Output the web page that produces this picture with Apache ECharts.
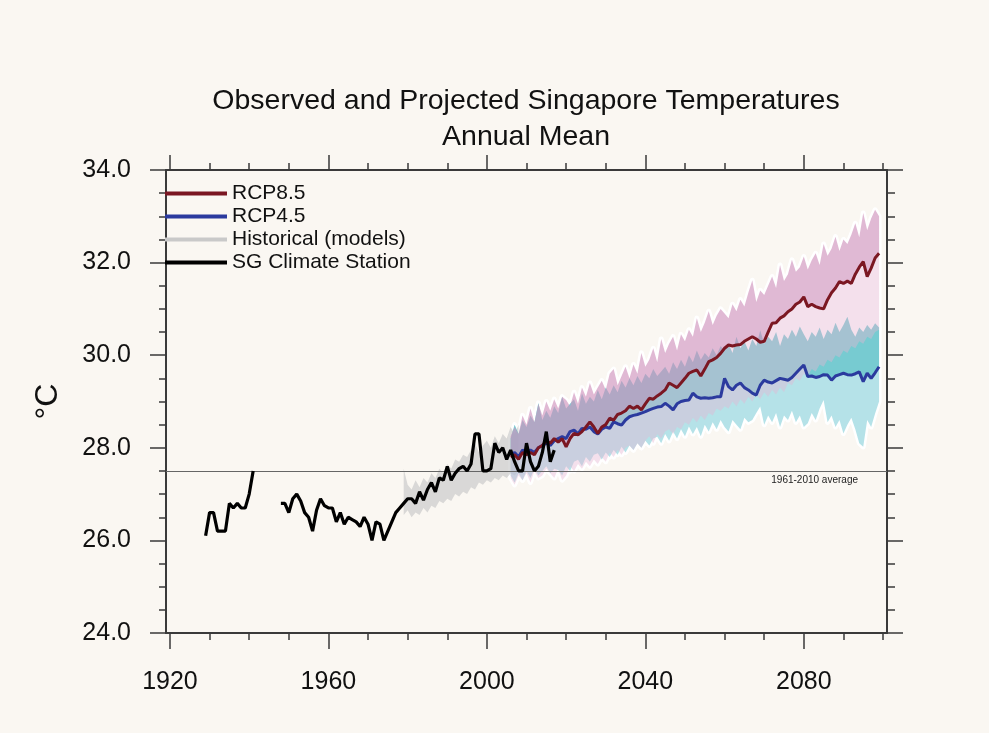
<!DOCTYPE html>
<html><head><meta charset="utf-8">
<script src="https://cdn.jsdelivr.net/npm/echarts@6/dist/echarts.min.js"></script>
<style>html,body{margin:0;padding:0;background:#faf7f2;}#c{width:989px;height:733px;}</style>
</head><body><div id="c"></div>
<script>
const titleLines = ['Observed and Projected Singapore Temperatures', 'Annual Mean'];
const yAxisName = '°C';
const xMajorTicks = [1920, 1960, 2000, 2040, 2080];
const xMinorTicks = [1930, 1940, 1950, 1970, 1980, 1990, 2010, 2020, 2030, 2050, 2060, 2070, 2090, 2100];
const xRange = [1919, 2101];
const yRange = [24, 34];
const yStep = 2;
const baselineValue = 27.5;
const baselineLabel = '1961-2010 average';
const legendNames = ['RCP8.5', 'RCP4.5', 'Historical (models)', 'SG Climate Station'];

// SG Climate Station, annual mean (null = no record)
const obsStartYear = 1929;
const obsValues = [
  26.10, 26.60, 26.60, 26.20, 26.20, 26.20, 26.80, 26.70, 26.80, 26.70, 26.70, 27.00, 27.50,
  null, null, null, null, null, null,
  26.80, 26.80, 26.60, 26.90, 27.00, 26.85, 26.60, 26.50, 26.20, 26.65, 26.90, 26.75,
  26.70, 26.70, 26.40, 26.60, 26.35, 26.50, 26.45, 26.40, 26.30, 26.50,
  26.35, 26.00, 26.40, 26.35, 26.00, 26.20, 26.40, 26.60, 26.70, 26.80,
  26.90, 26.90, 26.80, 27.05, 26.87, 27.10, 27.25, 27.05, 27.35, 27.30,
  27.60, 27.30, 27.45, 27.55, 27.60, 27.50, 27.65, 28.30, 28.30, 27.50,
  27.50, 27.55, 28.10, 27.90, 28.00, 27.75, 27.95, 27.70, 27.50, 27.50,
  28.10, 27.70, 27.50, 27.60, 27.90, 28.35, 27.70, 27.95
];

// Historical model range
const histStartYear = 1979;
const histLow = [
  26.55, 26.65, 26.50, 26.60, 26.55, 26.70, 26.60, 26.75, 26.70, 26.85,
  26.80, 26.90, 26.85, 27.00, 26.95, 27.05, 27.00, 27.15, 27.10, 27.25,
  27.20, 27.30, 27.25, 27.35, 27.30, 27.40, 27.35, 27.45, 27.40, 27.50
];
const histHigh = [
  27.55, 27.20, 27.10, 27.30, 27.15, 27.35, 27.25, 27.45, 27.35, 27.55,
  27.45, 27.65, 27.55, 27.75, 27.70, 27.85, 27.80, 27.95, 28.10, 27.90,
  28.05, 28.15, 28.00, 28.25, 28.10, 28.30, 28.20, 28.45, 28.30, 28.50
];

// Projections 2006-2099
const projStartYear = 2006;
const rcp85Mean = [
  27.80, 27.85, 27.75, 27.90, 27.85, 27.90, 27.85, 28.00, 28.05, 28.15,
  28.10, 28.20, 28.12, 28.20, 28.02, 28.20, 28.31, 28.28, 28.35, 28.45,
  28.56, 28.45, 28.31, 28.45, 28.50, 28.64, 28.60, 28.72, 28.75, 28.80,
  28.90, 28.85, 28.90, 28.82, 28.95, 29.07, 29.05, 29.12, 29.18, 29.25,
  29.40, 29.35, 29.30, 29.40, 29.50, 29.61, 29.65, 29.68, 29.55, 29.70,
  29.86, 29.90, 29.95, 30.04, 30.15, 30.22, 30.20, 30.22, 30.23, 30.30,
  30.35, 30.40, 30.35, 30.28, 30.30, 30.50, 30.69, 30.70, 30.80, 30.85,
  30.94, 31.00, 31.10, 31.15, 31.26, 31.05, 31.10, 31.05, 31.02, 31.00,
  31.20, 31.35, 31.45, 31.59, 31.55, 31.60, 31.55, 31.75, 31.90, 32.02,
  31.70, 31.88, 32.10, 32.20
];
const rcp85Low = [
  27.35, 27.20, 27.40, 27.30, 27.45, 27.25, 27.50, 27.35, 27.40, 27.55,
  27.45, 27.35, 27.55, 27.30, 27.40, 27.60, 27.50, 27.65, 27.55, 27.70,
  27.60, 27.75, 27.65, 27.80, 27.70, 27.90, 27.80, 27.95, 27.85, 28.00,
  28.05, 27.95, 28.10, 28.00, 28.15, 28.25, 28.10, 28.30, 28.20, 28.35,
  28.40, 28.30, 28.45, 28.40, 28.55, 28.50, 28.65, 28.55, 28.70, 28.60,
  28.75, 28.70, 28.85, 28.80, 28.90, 28.85, 29.00, 28.90, 29.05, 28.95,
  29.10, 29.00, 29.15, 29.05, 29.20, 29.10, 29.25, 29.15, 29.30, 29.20,
  29.40, 29.35, 29.50, 29.45, 29.60, 29.55, 29.70, 29.65, 29.80, 29.75,
  29.90, 29.85, 30.00, 29.95, 30.10, 30.05, 30.20, 30.15, 30.30, 30.25,
  30.40, 30.35, 30.50, 30.55
];
const rcp85High = [
  28.25, 28.45, 28.30, 28.70, 28.50, 28.85, 28.55, 28.95, 28.70, 29.00,
  28.80, 29.05, 28.85, 29.10, 29.03, 28.90, 29.20, 28.95, 29.30, 29.10,
  29.40, 29.15, 29.30, 29.45, 29.25, 29.60, 29.70, 29.35, 29.55, 29.75,
  29.50, 29.80, 29.60, 30.05, 29.75, 29.90, 30.15, 29.85, 30.35, 30.05,
  30.25, 30.40, 30.10, 30.45, 30.30, 30.55, 30.40, 30.80, 30.50, 30.70,
  30.95, 30.65, 30.85, 31.00, 30.90, 30.80, 31.10, 30.95, 31.20, 31.05,
  31.35, 31.62, 31.15, 31.40, 31.30, 31.50, 31.70, 31.45, 31.95, 31.60,
  31.75, 32.06, 31.80, 31.90, 32.13, 31.85, 32.05, 32.20, 31.95, 32.40,
  32.15, 32.30, 32.56, 32.25, 32.50, 32.40, 32.60, 32.85, 32.55, 33.07,
  32.70, 32.95, 33.14, 33.00
];
const rcp45Mean = [
  27.85, 27.90, 27.80, 27.95, 27.90, 27.95, 27.90, 28.00, 28.05, 28.10,
  28.05, 28.15, 28.20, 28.24, 28.20, 28.35, 28.38, 28.30, 28.42, 28.40,
  28.45, 28.35, 28.30, 28.40, 28.45, 28.42, 28.56, 28.52, 28.49, 28.60,
  28.67, 28.70, 28.72, 28.75, 28.78, 28.82, 28.85, 28.88, 28.89, 28.96,
  28.90, 28.82, 28.95, 29.00, 29.02, 29.03, 29.18, 29.10, 29.07, 29.08,
  29.07, 29.08, 29.10, 29.10, 29.50, 29.32, 29.25, 29.35, 29.40, 29.30,
  29.25, 29.18, 29.14, 29.35, 29.46, 29.42, 29.40, 29.45, 29.50, 29.48,
  29.46, 29.52, 29.61, 29.70, 29.79, 29.54, 29.55, 29.52, 29.54, 29.58,
  29.57, 29.46, 29.55, 29.58, 29.61, 29.58, 29.57, 29.60, 29.64, 29.43,
  29.61, 29.50, 29.62, 29.75
];
const rcp45Low = [
  27.40, 27.25, 27.45, 27.30, 27.50, 27.35, 27.55, 27.40, 27.50, 27.60,
  27.45, 27.55, 27.52, 27.40, 27.60, 27.50, 27.70, 27.74, 27.60, 27.80,
  27.70, 27.85, 27.88, 27.75, 27.90, 27.80, 27.95, 27.85, 28.02, 27.90,
  28.05, 27.95, 28.10, 28.00, 28.15, 28.05, 28.20, 28.24, 28.10, 28.30,
  28.15, 28.35, 28.20, 28.40, 28.25, 28.46, 28.30, 28.45, 28.25, 28.50,
  28.35, 28.55, 28.40, 28.60, 28.45, 28.35, 28.60, 28.50, 28.40, 28.65,
  28.55, 28.60, 28.75, 28.89, 28.50, 28.70, 28.55, 28.75, 28.45, 28.70,
  28.60, 28.80, 28.55, 28.70, 28.45, 28.53, 28.75, 28.60, 28.85, 29.03,
  28.55, 28.70, 28.45, 28.60, 28.31, 28.50, 28.65, 28.40, 28.10, 28.02,
  28.60, 28.45, 28.74, 29.00
];
const rcp45High = [
  28.20, 28.50, 28.30, 28.60, 28.45, 28.70, 28.55, 28.97, 28.60, 28.80,
  28.65, 28.90, 28.75, 29.10, 28.85, 28.95, 29.05, 28.80, 29.18, 28.95,
  29.10, 29.00, 29.25, 29.05, 29.30, 29.15, 29.35, 29.20, 29.45, 29.30,
  29.50, 29.35, 29.55, 29.40, 29.60, 29.50, 29.70, 29.55, 29.65, 29.75,
  29.60, 29.85, 29.70, 29.90, 29.75, 30.00, 29.85, 30.10, 29.90, 30.05,
  29.95, 30.15, 30.00, 30.20, 30.10, 30.25, 30.05, 30.40, 30.15, 30.30,
  30.10, 30.35, 30.20, 30.54, 30.25, 30.40, 30.30, 30.50, 30.20, 30.45,
  30.35, 30.55, 30.40, 30.62, 30.45, 30.30, 30.50, 30.40, 30.60, 30.35,
  30.55, 30.45, 30.70, 30.50, 30.65, 30.83, 30.55, 30.40, 30.60, 30.50,
  30.65, 30.55, 30.69, 30.60
];

const FONT = '"Liberation Sans", Arial, Helvetica, sans-serif';
const COL85 = '#7b1722';
const COL45 = '#2b3a9e';
const COLHIST = '#c9c9c9';
const AXC = '#3a3a3a';

const pairs = (start, vals) => vals.map((v, i) => [start + i, v]);

function band(start, lo, hi, fill, z, opts) {
  opts = opts || {};
  const data = lo.map((v, i) => [start + i, v, hi[i]]);
  return {
    type: 'custom', name: opts.name, z: z, silent: true, clip: true,
    itemStyle: { color: opts.legendColor || fill },
    encode: { x: 0, y: [1, 2] },
    data: data,
    renderItem: function (params, api) {
      if (params.dataIndex !== 0) return null;
      const top = data.map(d => api.coord([d[0], d[2]]));
      const bot = data.map(d => api.coord([d[0], d[1]])).reverse();
      return {
        type: 'polygon',
        shape: { points: top.concat(bot) },
        style: opts.halo
          ? { fill: '#ffffff', stroke: '#ffffff', lineWidth: 5, lineJoin: 'round' }
          : { fill: fill }
      };
    }
  };
}

const chart = echarts.init(document.getElementById('c'));
const tickLine = { color: AXC, width: 1.5 };
const axisLine = { show: true, lineStyle: { color: AXC, width: 2 } };

chart.setOption({
  backgroundColor: '#faf7f2',
  animation: false,
  title: {
    text: titleLines.join('\n'),
    left: 526, top: 83, textAlign: 'center', padding: 0,
    textStyle: { fontFamily: FONT, fontSize: 28.5, fontWeight: 'normal', color: '#111', lineHeight: 36 }
  },
  grid: { left: 166, right: 102, top: 170, bottom: 100, containLabel: false },
  legend: {
    orient: 'vertical', left: 165, top: 182, padding: 0, itemWidth: 62, itemHeight: 4, itemGap: 0,
    icon: 'rect', selectedMode: false,
    textStyle: { fontFamily: FONT, fontSize: 21, color: '#111', lineHeight: 23 },
    data: [
      { name: legendNames[0], itemStyle: { color: COL85 } },
      { name: legendNames[1], itemStyle: { color: COL45 } },
      { name: legendNames[2], itemStyle: { color: COLHIST } },
      { name: legendNames[3], itemStyle: { color: '#000' } }
    ]
  },
  xAxis: [
    { type: 'value', min: xRange[0], max: xRange[1], position: 'bottom', axisLine: axisLine,
      splitLine: { show: false },
      axisTick: { show: true, customValues: xMajorTicks, length: 16, lineStyle: tickLine },
      axisLabel: { customValues: xMajorTicks, formatter: v => String(v),
        fontFamily: FONT, fontSize: 25, color: '#111', margin: 37 } },
    { type: 'value', min: xRange[0], max: xRange[1], position: 'bottom', axisLine: { show: false },
      splitLine: { show: false },
      axisTick: { show: true, customValues: xMinorTicks, length: 7, lineStyle: tickLine },
      axisLabel: { show: false } },
    { type: 'value', min: xRange[0], max: xRange[1], position: 'top', axisLine: axisLine,
      splitLine: { show: false },
      axisTick: { show: true, customValues: xMajorTicks, length: 15, lineStyle: tickLine },
      axisLabel: { show: false } },
    { type: 'value', min: xRange[0], max: xRange[1], position: 'top', axisLine: { show: false },
      splitLine: { show: false },
      axisTick: { show: true, customValues: xMinorTicks, length: 7, lineStyle: tickLine },
      axisLabel: { show: false } }
  ],
  yAxis: [
    { type: 'value', min: yRange[0], max: yRange[1], interval: yStep, position: 'left',
      axisLine: axisLine, splitLine: { show: false },
      axisTick: { show: true, length: 16, lineStyle: tickLine },
      minorTick: { show: true, splitNumber: 4, length: 7, lineStyle: tickLine },
      axisLabel: { fontFamily: FONT, fontSize: 25, color: '#111', margin: 35, formatter: v => v.toFixed(1) },
      name: yAxisName, nameLocation: 'middle', nameRotate: 90, nameGap: 102,
      nameTextStyle: { fontFamily: FONT, fontSize: 32, color: '#111' } },
    { type: 'value', min: yRange[0], max: yRange[1], interval: yStep, position: 'right',
      axisLine: axisLine, splitLine: { show: false },
      axisTick: { show: true, length: 16, lineStyle: tickLine },
      minorTick: { show: true, splitNumber: 4, length: 8, lineStyle: tickLine },
      axisLabel: { show: false } }
  ],
  series: [
    band(projStartYear, rcp45Low, rcp45High, null, 1, { halo: true }),
    band(projStartYear, rcp85Low, rcp85High, null, 1, { halo: true }),
    band(histStartYear, histLow, histHigh, 'rgba(200,200,200,0.65)', 2, { name: legendNames[2], legendColor: COLHIST }),
    band(projStartYear, rcp45Low, rcp45Mean, 'rgba(135,208,218,0.62)', 3),
    band(projStartYear, rcp45Mean, rcp45High, 'rgba(85,190,198,0.8)', 3),
    band(projStartYear, rcp85Low, rcp85Mean, 'rgba(228,180,210,0.42)', 4),
    band(projStartYear, rcp85Mean, rcp85High, 'rgba(208,148,190,0.66)', 4),
    { type: 'line', name: legendNames[1], data: pairs(projStartYear, rcp45Mean), symbol: 'none',
      lineStyle: { color: COL45, width: 3 }, itemStyle: { color: COL45 }, z: 6,
      markLine: { silent: true, symbol: 'none', animation: false,
        lineStyle: { color: '#666', width: 1.2, type: 'solid' },
        label: { show: true, position: 'insideEndBottom', formatter: baselineLabel,
          fontFamily: FONT, fontSize: 10, color: '#222', distance: [29, 4] },
        data: [{ yAxis: baselineValue }] } },
    { type: 'line', name: legendNames[0], data: pairs(projStartYear, rcp85Mean), symbol: 'none',
      lineStyle: { color: COL85, width: 3 }, itemStyle: { color: COL85 }, z: 7 },
    { type: 'line', name: legendNames[3], data: pairs(obsStartYear, obsValues), symbol: 'none',
      connectNulls: false,
      lineStyle: { color: '#000', width: 3.2 }, itemStyle: { color: '#000' }, z: 8 }
  ]
});
</script></body></html>
